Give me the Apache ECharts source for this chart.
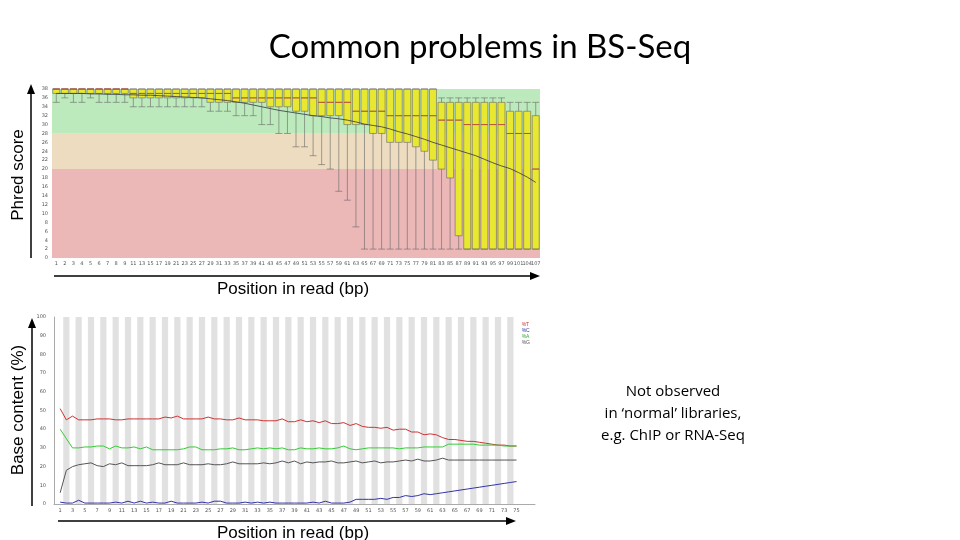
<!DOCTYPE html>
<html><head><meta charset="utf-8">
<script src="https://cdn.jsdelivr.net/npm/echarts@6/dist/echarts.min.js"></script>
<style>html,body{margin:0;padding:0;background:#fff}#c{width:960px;height:540px}</style>
</head><body><div id="c"></div>
<script>
// ---- Top chart: per-base quality ----
const qualCats = ["1","2","3","4","5","6","7","8","9","11","13","15","17","19","21","23","25","27","29","31","33","35","37","39","41","43","45","47","49","51","53","55","57","59","61","63","65","67","69","71","73","75","77","79","81","83","85","87","89","91","93","95","97","99","101","104","107"];
const qualLow = [35,36,35,35,36,35,35,35,35,34,34,34,34,34,34,34,34,34,33,33,33,32,32,32,30,30,28,28,25,25,23,21,20,15,13,7,2,2,2,2,2,2,2,2,2,2,2,2,2,2,2,2,2,2,2,2,2];
const qualQ1 = [37,37,37,37,37,37,37,37,37,36,36,36,36,36,36,36,36,36,35,35,35,35,35,35,35,34,34,34,33,33,32,32,32,32,30,30,30,28,28,26,26,26,25,24,22,20,18,5,2,2,2,2,2,2,2,2,2];
const qualMed = [38,38,38,38,38,38,38,38,38,37,37,37,37,37,37,37,37,37,37,37,37,36,36,36,36,36,36,36,36,36,36,35,35,35,35,33,33,33,33,32,32,32,32,32,32,31,31,31,30,30,30,30,30,28,28,28,20];
const qualQ3 = [38,38,38,38,38,38,38,38,38,38,38,38,38,38,38,38,38,38,38,38,38,38,38,38,38,38,38,38,38,38,38,38,38,38,38,38,38,38,38,38,38,38,38,38,38,35,35,35,35,35,35,35,35,33,33,33,32];
const qualHigh = [38,38,38,38,38,38,38,38,38,38,38,38,38,38,38,38,38,38,38,38,38,38,38,38,38,38,38,38,38,38,38,38,38,38,38,38,38,38,38,38,38,38,38,38,38,36,36,36,36,36,36,36,36,35,35,35,35];
const qualMean = [37,37,37,37,36.9,36.9,36.8,36.8,36.7,36.7,36.6,36.6,36.5,36.4,36.3,36.2,36.1,36,35.8,35.6,35.4,35.1,34.8,34.4,34,33.6,33.2,32.9,32.6,32.3,32,31.8,31.5,31.3,31,30.6,30.1,29.8,29.5,29,28.4,27.9,27.3,26.7,26,25.4,24.8,24.2,23.6,23,22.2,21.4,20.7,20.1,19.2,18.2,17];
const qualTicks = [0,2,4,6,8,10,12,14,16,18,20,22,24,26,28,30,32,34,36,38];

// ---- Bottom chart: per-base sequence content ----
const basePos = Array.from({length:75},(_,i)=>i+1);
const pctT = [51,45,47,45,45,45,45.5,45.5,45.5,45,45,45.5,45.5,45.5,45.5,45.5,45.5,46.5,46,47,45.5,45.5,45.5,45.5,46.5,45.5,45.5,45,45,46,45,45,45,44.5,44.5,44.5,45.5,44,44,45,44,44.5,43.5,44.5,43,43,43.5,42,43,41.5,41,41,40.5,41,39.5,40,40,38.5,38.5,37,37.5,37,35.5,34.5,34.5,34,33.5,33.5,33,32.5,32,31.5,31.5,31,31];
const pctC = [1,0.5,0.5,2,0.5,0.5,0.5,0.5,0.5,1,0.5,1.5,0.5,1.5,0.5,1,0.5,0.5,1.5,0.5,0.5,0.5,0.5,1,0.5,1.5,1.5,0.5,0.5,0.5,1,0.5,1,0.5,1,0.5,0.5,0.5,0.5,0.5,0.5,1,0.5,1.5,0.5,0.5,0.5,1,2.5,2.5,2.5,2.5,3,2.5,3.5,3.5,4.5,4,4.5,5.5,5,5.5,6,6.5,7,7.5,8,8.5,9,9.5,10,10.5,11,11.5,12];
const pctA = [40,35,30,30,30.5,30.5,31,31,29.5,31,30,30,30.5,29.5,30.5,29,29,29,29,29,29.5,30.5,30.5,29,29,29,29.5,29.5,30,29,29,29.5,30,29.5,30,29.5,30,29,29,30,29.5,29.5,30,29.5,29.5,30,31,29.5,29,29.5,30,30,30,30,30,29.5,30,30,30,30.5,30.5,30.5,30.5,32,32,32,32,32,31.5,31.5,31.5,31.5,31,31,31];
const pctG = [6,18,20,21,21.5,22,20.5,20,21.5,21,22,20.5,20.5,20.5,20.5,21,22,21,21,21,22,21,21,21,21.5,21,21,21.5,22.5,21.5,21.5,21.5,21.5,22,21.5,22,23,22,23,21.5,22.5,22,22.5,22.5,23,22,22,22.5,23,22,22.5,23,22,22.5,22.5,23,23.5,23,24,23,23,23.5,24.5,23.5,23.5,23.5,23.5,23.5,23.5,23.5,23.5,23.5,23.5,23.5,23.5];
const baseTicks = [0,10,20,30,40,50,60,70,80,90,100];

const chart = echarts.init(document.getElementById('c'));
const boxData = qualCats.map((c,i)=>[qualLow[i],qualQ1[i],qualMed[i],qualQ3[i],qualHigh[i]]);
const stripesTop = qualCats.filter((c,i)=>i%2===1).map(c=>[{xAxis:c,yAxis:0},{xAxis:c,yAxis:38}]);
const stripesBot = basePos.filter(p=>p%2===0 && p<75).map(p=>[{xAxis:p-0.5,yAxis:0},{xAxis:p+0.5,yAxis:100}]);
const tiny = {fontSize:5,color:'#555',fontFamily:'DejaVu Sans'};
const titleFont = {fontSize:17,fill:'#000',fontFamily:'Liberation Sans'};

chart.setOption({
  animation:false,
  title:{text:'Common problems in BS-Seq',left:'center',top:26,textStyle:{fontSize:33,fontWeight:'normal',fontFamily:'Lato',color:'#000'}},
  legend:{right:425,top:317,orient:'vertical',itemWidth:0,itemHeight:0,itemGap:1,icon:'none',
    textStyle:{fontSize:5},
    data:[{name:'%T',textStyle:{color:'#c33'}},{name:'%C',textStyle:{color:'#33a'}},{name:'%A',textStyle:{color:'#3a3'}},{name:'%G',textStyle:{color:'#555'}}]},
  grid:[
    {left:52,top:89,width:488,height:169},
    {left:54,top:317,width:481,height:187}
  ],
  xAxis:[
    {gridIndex:0,type:'category',data:qualCats,axisLine:{show:false},axisTick:{show:false},axisLabel:Object.assign({interval:0,margin:3},tiny)},
    {gridIndex:1,type:'value',min:0,max:78,interval:1,splitLine:{show:false},axisTick:{show:false},
     axisLine:{lineStyle:{color:'#aaa'}},
     axisLabel:Object.assign({margin:4,formatter:v=>(v%2===1&&v<=75)?String(v):''},tiny)}
  ],
  yAxis:[
    {gridIndex:0,type:'value',min:0,max:38,interval:2,splitLine:{show:false},axisLine:{show:false},axisTick:{show:false},axisLabel:Object.assign({margin:4},tiny)},
    {gridIndex:1,type:'value',min:0,max:100,interval:10,splitLine:{show:false},axisLine:{show:true,lineStyle:{color:'#aaa'}},axisTick:{show:false},axisLabel:Object.assign({margin:8},tiny)}
  ],
  series:[
    {type:'boxplot',xAxisIndex:0,yAxisIndex:0,data:boxData,boxWidth:[7,8],
     itemStyle:{color:'#e8e830',borderColor:'#666',borderWidth:0.6},
     markArea:{silent:true,data:[
       [{yAxis:0,itemStyle:{color:'rgba(225,145,145,0.65)'}},{yAxis:20}],
       [{yAxis:20,itemStyle:{color:'rgba(230,205,165,0.7)'}},{yAxis:28}],
       [{yAxis:28,itemStyle:{color:'rgba(160,225,160,0.7)'}},{yAxis:38}]
     ]}},
    {type:'line',xAxisIndex:0,yAxisIndex:0,data:[],markArea:{silent:true,itemStyle:{color:'rgba(255,255,255,0.3)'},data:stripesTop}},
    {type:'scatter',xAxisIndex:0,yAxisIndex:0,data:qualMed,symbol:'rect',symbolSize:[7,1],itemStyle:{color:'#c84030'},z:5},
    {type:'line',xAxisIndex:0,yAxisIndex:0,data:qualMean,showSymbol:false,lineStyle:{color:'#334',width:0.8},z:6},
    {type:'line',xAxisIndex:1,yAxisIndex:1,data:[],markArea:{silent:true,itemStyle:{color:'rgba(200,200,200,0.55)'},data:stripesBot}},
    {name:'%T',type:'line',xAxisIndex:1,yAxisIndex:1,data:basePos.map((p,i)=>[p,pctT[i]]),showSymbol:false,lineStyle:{color:'#c33',width:1},itemStyle:{color:'#c33'}},
    {name:'%C',type:'line',xAxisIndex:1,yAxisIndex:1,data:basePos.map((p,i)=>[p,pctC[i]]),showSymbol:false,lineStyle:{color:'#33a',width:1},itemStyle:{color:'#33a'}},
    {name:'%A',type:'line',xAxisIndex:1,yAxisIndex:1,data:basePos.map((p,i)=>[p,pctA[i]]),showSymbol:false,lineStyle:{color:'#3c3',width:1},itemStyle:{color:'#3c3'}},
    {name:'%G',type:'line',xAxisIndex:1,yAxisIndex:1,data:basePos.map((p,i)=>[p,pctG[i]]),showSymbol:false,lineStyle:{color:'#555',width:1},itemStyle:{color:'#555'}}
  ],
  graphic:[
    {type:'text',x:18,y:175,rotation:Math.PI/2,style:Object.assign({text:'Phred score',textAlign:'center',textVerticalAlign:'middle'},titleFont)},
    {type:'line',shape:{x1:31,y1:258,x2:31,y2:92},style:{stroke:'#000',lineWidth:1.5}},
    {type:'polygon',shape:{points:[[27,94],[35,94],[31,84]]},style:{fill:'#000'}},
    {type:'line',shape:{x1:54,y1:276,x2:532,y2:276},style:{stroke:'#000',lineWidth:1.5}},
    {type:'polygon',shape:{points:[[530,272],[530,280],[540,276]]},style:{fill:'#000'}},
    {type:'text',x:293,y:289,style:Object.assign({text:'Position in read (bp)',textAlign:'center',textVerticalAlign:'middle'},titleFont)},
    {type:'text',x:18,y:410,rotation:Math.PI/2,style:Object.assign({text:'Base content (%)',textAlign:'center',textVerticalAlign:'middle'},titleFont)},
    {type:'line',shape:{x1:32,y1:506,x2:32,y2:326},style:{stroke:'#000',lineWidth:1.5}},
    {type:'polygon',shape:{points:[[28,328],[36,328],[32,318]]},style:{fill:'#000'}},
    {type:'line',shape:{x1:58,y1:521,x2:508,y2:521},style:{stroke:'#000',lineWidth:1.5}},
    {type:'polygon',shape:{points:[[506,517],[506,525],[516,521]]},style:{fill:'#000'}},
    {type:'text',x:293,y:533,style:Object.assign({text:'Position in read (bp)',textAlign:'center',textVerticalAlign:'middle'},titleFont)},
    {type:'text',x:673,y:414,style:{text:'Not observed\nin ‘normal’ libraries,\ne.g. ChIP or RNA-Seq',textAlign:'center',textVerticalAlign:'middle',fontSize:15,lineHeight:22,fill:'#000',fontFamily:'Open Sans'}}
  ]
});
</script></body></html>
